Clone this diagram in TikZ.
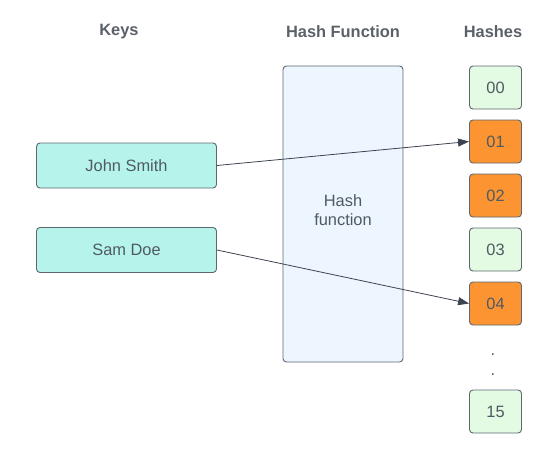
\documentclass[tikz,border=0pt]{standalone}
\usepackage{fontspec}
\setmainfont{Liberation Sans}
\usetikzlibrary{arrows.meta}
\definecolor{keyfill}{HTML}{B6F4EB}
\definecolor{hashfill}{HTML}{EDF5FF}
\definecolor{greenfill}{HTML}{E3FAE3}
\definecolor{orangefill}{HTML}{FC9432}
\definecolor{bordercol}{HTML}{5E6770}
\definecolor{textcol}{HTML}{4F5A62}
\definecolor{titlecol}{HTML}{5C6169}
\definecolor{arrowcol}{HTML}{3D4450}
\begin{document}
\begin{tikzpicture}[x=1pt,y=-1pt,
  every node/.style={font=\fontsize{16.4}{19}\selectfont, text=textcol},
  title/.style={font=\fontsize{16.4}{19}\selectfont\bfseries, text=titlecol},
  box/.style={draw=bordercol, line width=0.9pt, rounded corners=3.5pt, inner sep=0pt, anchor=center},
  keybox/.style={box, fill=keyfill, minimum width=180pt, minimum height=45pt},
  hashbox/.style={box, minimum width=52pt, minimum height=43pt},
  green/.style={hashbox, fill=greenfill},
  orange/.style={hashbox, fill=orangefill},
  link/.style={draw=arrowcol, line width=0.8pt, -{Triangle[length=11pt,width=8pt]}}
]
\useasboundingbox (0,0) rectangle (556,469);
\node[title] (tkeys) at (119,32) {Keys};
\node[title] (tfun) at (343,32) {Hash Function};
\node[title] (thash) at (493,32) {Hashes};

\node[box, fill=hashfill, minimum width=120pt, minimum height=296pt] (fun) at (343,214) {};
\node[align=center] (funtext) at (343,210) {Hash\\function};

\node[keybox] (john) at (126.5,165.5) {John Smith};
\node[keybox] (sam) at (126.5,250) {Sam Doe};

\node[green] (h00) at (495.5,87.5) {00};
\node[orange] (h01) at (495.5,141.5) {01};
\node[orange] (h02) at (495.5,195.5) {02};
\node[green] (h03) at (495.5,249.5) {03};
\node[orange] (h04) at (495.5,303.5) {04};
\node[green] (h15) at (495.5,411.5) {15};

\node[anchor=base, inner sep=0pt] (dot1) at (493,355) {.};
\node[anchor=base, inner sep=0pt] (dot2) at (493,375) {.};

\draw[link] (john.east) -- (h01.west);
\draw[link] (sam.east) -- (h04.west);
\end{tikzpicture}
\end{document}
